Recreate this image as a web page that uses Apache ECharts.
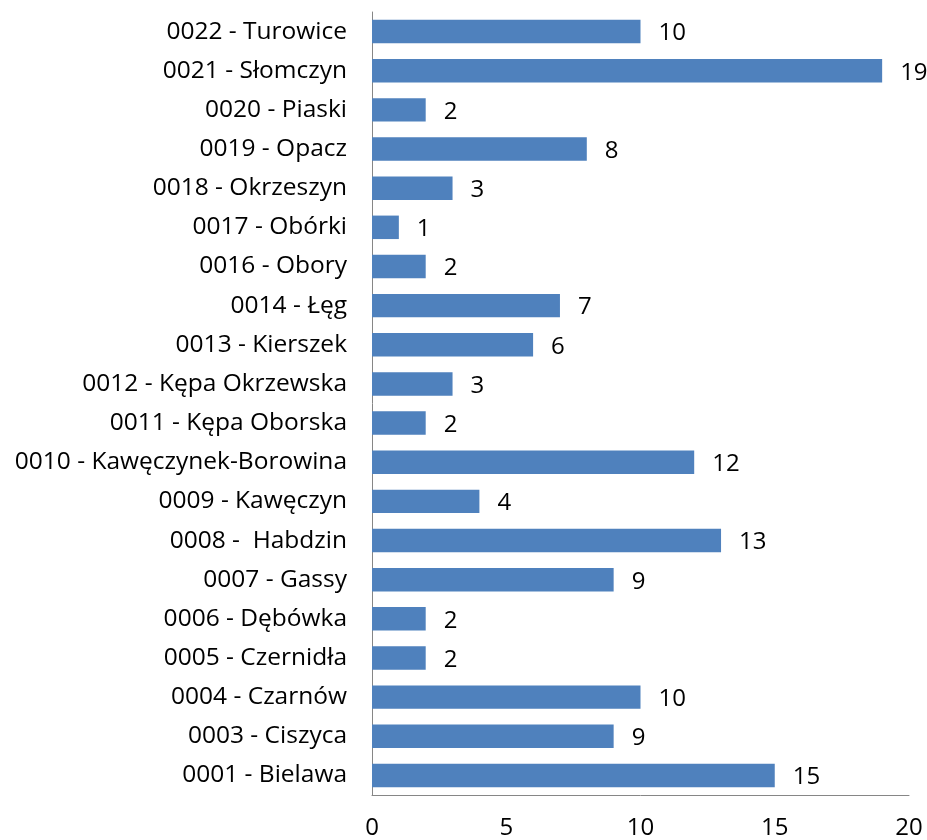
<!DOCTYPE html>
<html>
<head>
<meta charset="utf-8">
<script src="https://cdn.jsdelivr.net/npm/echarts@6/dist/echarts.min.js"></script>
<style>
  html, body { margin: 0; padding: 0; background: #fff; }
  #chart { width: 927px; height: 840px; }
</style>
</head>
<body>
<div id="chart"></div>
<script>
// Sołectwa listed top to bottom
const categories = [
  '0022 - Turowice',
  '0021 - Słomczyn',
  '0020 - Piaski',
  '0019 - Opacz',
  '0018 - Okrzeszyn',
  '0017 - Obórki',
  '0016 - Obory',
  '0014 - Łęg',
  '0013 - Kierszek',
  '0012 - Kępa Okrzewska',
  '0011 - Kępa Oborska',
  '0010 - Kawęczynek-Borowina',
  '0009 - Kawęczyn',
  '0008 -  Habdzin',
  '0007 - Gassy',
  '0006 - Dębówka',
  '0005 - Czernidła',
  '0004 - Czarnów',
  '0003 - Ciszyca',
  '0001 - Bielawa'
];
const values = [10, 19, 2, 8, 3, 1, 2, 7, 6, 3, 2, 12, 4, 13, 9, 2, 2, 10, 9, 15];
const xTicks = { min: 0, max: 20, interval: 5 };

const FONT = '"Open Sans", sans-serif';
const chart = echarts.init(document.getElementById('chart'), null, { renderer: 'canvas' });
chart.setOption({
  animation: false,
  backgroundColor: '#ffffff',
  grid: { left: 372, right: 18, top: 12, bottom: 43, containLabel: false },
  xAxis: {
    type: 'value',
    min: xTicks.min, max: xTicks.max, interval: xTicks.interval,
    axisLine: { show: true, lineStyle: { color: '#868686', width: 1 } },
    axisTick: { show: false },
    splitLine: { show: false },
    axisLabel: { color: '#000', fontFamily: FONT, fontSize: 24, margin: 21 }
  },
  yAxis: {
    type: 'category',
    inverse: true,
    data: categories,
    axisLine: { show: true, lineStyle: { color: '#868686', width: 1 } },
    axisTick: { show: false },
    axisLabel: { color: '#000', fontFamily: FONT, fontSize: 24.5, margin: 25 }
  },
  series: [{
    type: 'bar',
    data: values,
    barCategoryGap: '40%',
    itemStyle: { color: '#4F81BD' },
    label: {
      show: true,
      position: 'right',
      distance: 18,
      offset: [0, 2],
      color: '#000',
      fontFamily: FONT,
      fontSize: 24
    }
  }]
});
</script>
</body>
</html>
